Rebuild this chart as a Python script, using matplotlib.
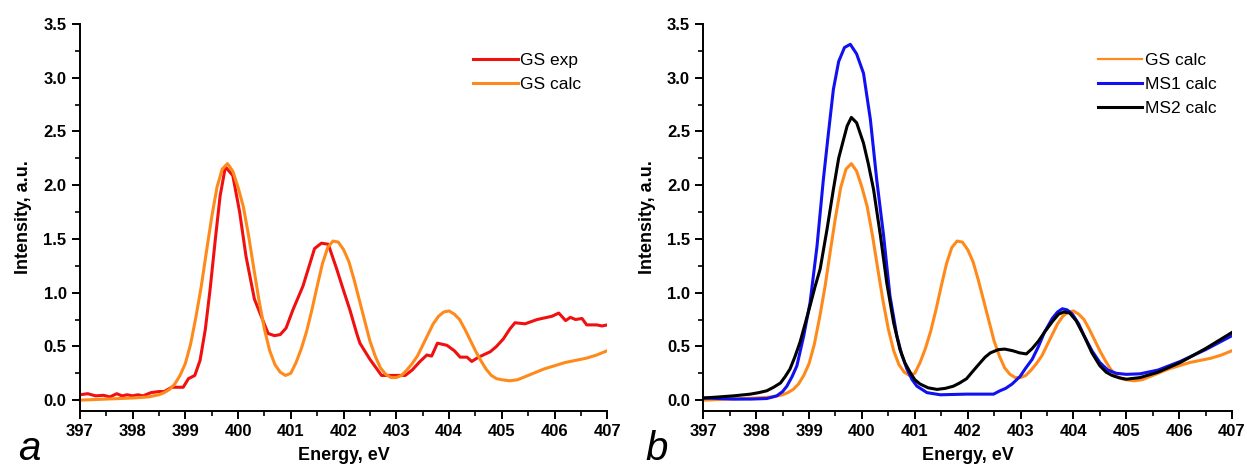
import matplotlib
matplotlib.use("Agg")
import matplotlib.pyplot as plt
from matplotlib.ticker import MultipleLocator, FormatStrFormatter

plt.rcParams['font.family'] = ['Liberation Sans', 'DejaVu Sans']

# GS experimental (panel a)
gs_exp_x = [397.0, 397.15, 397.3, 397.45, 397.57, 397.7, 397.8, 397.9, 398.0, 398.1, 398.2, 398.35,
            398.5, 398.6, 398.74, 398.96, 399.06, 399.18, 399.28, 399.38, 399.47, 399.57, 399.66,
            399.76, 399.9, 400.03, 400.15, 400.31, 400.44, 400.57, 400.69, 400.8, 400.91, 401.04,
            401.23, 401.45, 401.58, 401.71, 401.87, 402.0, 402.12, 402.25, 402.31, 402.5, 402.72,
            402.95, 403.17, 403.3, 403.45, 403.58, 403.67, 403.78, 403.96, 404.1, 404.21, 404.34,
            404.43, 404.56, 404.78, 404.9, 405.03, 405.15, 405.25, 405.44, 405.67, 405.95, 406.08,
            406.21, 406.3, 406.4, 406.52, 406.61, 406.8, 406.9, 407.0]
gs_exp_y = [0.05, 0.06, 0.04, 0.045, 0.03, 0.06, 0.04, 0.05, 0.04, 0.05, 0.04, 0.07,
            0.08, 0.08, 0.12, 0.12, 0.20, 0.23, 0.37, 0.66, 1.03, 1.50, 1.90,
            2.17, 2.09, 1.75, 1.34, 0.94, 0.78, 0.62, 0.60, 0.61, 0.67, 0.84,
            1.06, 1.41, 1.46, 1.45, 1.22, 1.02, 0.84, 0.62, 0.53, 0.38, 0.23,
            0.23, 0.23, 0.28, 0.36, 0.42, 0.41, 0.53, 0.51, 0.46, 0.40, 0.40,
            0.36, 0.40, 0.45, 0.50, 0.57, 0.66, 0.72, 0.71, 0.75, 0.78, 0.81,
            0.74, 0.77, 0.75, 0.76, 0.70, 0.70, 0.69, 0.70]

# GS calculated (both panels)
gs_calc_x = [397.0, 397.5, 398.0, 398.3, 398.5, 398.6, 398.7, 398.8, 398.9, 399.0, 399.1, 399.2,
             399.3, 399.4, 399.5, 399.6, 399.7, 399.8, 399.9, 400.0, 400.1, 400.2, 400.3, 400.4,
             400.5, 400.6, 400.7, 400.8, 400.9, 401.0, 401.1, 401.2, 401.3, 401.4, 401.5, 401.6,
             401.7, 401.8, 401.9, 402.0, 402.1, 402.2, 402.3, 402.4, 402.5, 402.6, 402.7, 402.8,
             402.9, 403.0, 403.1, 403.2, 403.3, 403.4, 403.5, 403.6, 403.7, 403.8, 403.9, 404.0,
             404.1, 404.2, 404.3, 404.4, 404.5, 404.6, 404.7, 404.8, 404.9, 405.0, 405.15, 405.3,
             405.45, 405.6, 405.8, 406.0, 406.2, 406.4, 406.6, 406.8, 407.0]
gs_calc_y = [0.00, 0.01, 0.02, 0.03, 0.05, 0.07, 0.10, 0.15, 0.23, 0.34, 0.52, 0.77,
             1.05, 1.38, 1.70, 1.98, 2.15, 2.20, 2.13, 1.98, 1.80, 1.53, 1.22, 0.92,
             0.66, 0.46, 0.33, 0.26, 0.23, 0.25, 0.35, 0.48, 0.64, 0.84, 1.06, 1.27,
             1.42, 1.48, 1.47, 1.40, 1.29, 1.12, 0.93, 0.74, 0.55, 0.41, 0.30, 0.24,
             0.21, 0.21, 0.23, 0.28, 0.34, 0.41, 0.51, 0.61, 0.71, 0.78, 0.82, 0.83,
             0.80, 0.75, 0.66, 0.56, 0.46, 0.37, 0.29, 0.23, 0.20, 0.19, 0.18, 0.19,
             0.22, 0.25, 0.29, 0.32, 0.35, 0.37, 0.39, 0.42, 0.46]

# MS1 calculated (panel b)
ms1_x = [397.0, 397.3, 397.57, 397.9, 398.2, 398.39, 398.5, 398.58, 398.68, 398.77, 398.9, 399.02,
         399.15, 399.27, 399.37, 399.46, 399.56, 399.67, 399.78, 399.9, 400.03, 400.16, 400.28,
         400.41, 400.53, 400.66, 400.75, 400.85, 400.95, 401.04, 401.23, 401.48, 401.98, 402.49,
         402.61, 402.72, 402.84, 402.99, 403.1, 403.22, 403.34, 403.45, 403.6, 403.7, 403.79,
         403.88, 403.98, 404.1, 404.2, 404.35, 404.5, 404.65, 404.81, 405.0, 405.26, 405.6,
         406.02, 406.5, 407.0]
ms1_y = [0.02, 0.015, 0.01, 0.01, 0.015, 0.04, 0.08, 0.13, 0.22, 0.32, 0.60, 0.91,
         1.43, 2.05, 2.50, 2.89, 3.15, 3.28, 3.31, 3.22, 3.04, 2.61, 2.05,
         1.53, 0.97, 0.60, 0.43, 0.29, 0.19, 0.13, 0.07, 0.05, 0.056, 0.056,
         0.087, 0.11, 0.15, 0.22, 0.30, 0.38, 0.50, 0.63, 0.76, 0.82, 0.85,
         0.84, 0.80, 0.71, 0.60, 0.46, 0.35, 0.28, 0.25, 0.24, 0.245, 0.28,
         0.36, 0.47, 0.60]

# MS2 calculated (panel b)
ms2_x = [397.0, 397.3, 397.57, 397.89, 398.05, 398.2, 398.33, 398.46, 398.55, 398.64, 398.73, 398.83,
         398.92, 399.02, 399.11, 399.21, 399.34, 399.46, 399.56, 399.65, 399.72, 399.8, 399.9,
         400.03, 400.12, 400.22, 400.35, 400.47, 400.6, 400.72, 400.81, 400.91, 401.0, 401.1,
         401.25, 401.42, 401.58, 401.73, 401.85, 401.98, 402.1, 402.24, 402.33, 402.43, 402.58,
         402.7, 402.85, 402.98, 403.11, 403.22, 403.34, 403.45, 403.6, 403.72, 403.82, 403.93,
         404.05, 404.2, 404.35, 404.5, 404.62, 404.73, 404.85, 405.0, 405.26, 405.6, 406.02,
         406.5, 407.0]
ms2_y = [0.02, 0.03, 0.04, 0.056, 0.07, 0.087, 0.12, 0.16, 0.22, 0.29, 0.40, 0.54,
         0.70, 0.88, 1.05, 1.22, 1.59, 1.96, 2.25, 2.42, 2.55, 2.63, 2.58,
         2.39, 2.20, 1.96, 1.53, 1.09, 0.72, 0.47, 0.35, 0.26, 0.19, 0.15,
         0.115, 0.10, 0.11, 0.13, 0.16, 0.20, 0.27, 0.35, 0.40, 0.44, 0.47,
         0.475, 0.46, 0.44, 0.43, 0.48, 0.55, 0.63, 0.73, 0.80, 0.82, 0.81,
         0.74, 0.60, 0.44, 0.32, 0.26, 0.23, 0.21, 0.195, 0.21, 0.26, 0.35,
         0.48, 0.63]

C_RED = '#f01010'
C_ORANGE = '#ff8a1c'
C_BLUE = '#1010f0'
C_BLACK = '#000000'

fig = plt.figure(figsize=(12.47, 4.68), dpi=100)
axL = fig.add_axes([0.064, 0.122, 0.423, 0.827])
axR = fig.add_axes([0.564, 0.122, 0.424, 0.827])

axL.plot(gs_exp_x, gs_exp_y, color=C_RED, lw=2.2, label='GS exp')
axL.plot(gs_calc_x, gs_calc_y, color=C_ORANGE, lw=2.2, label='GS calc')

axR.plot(gs_calc_x, gs_calc_y, color=C_ORANGE, lw=2.2, label='GS calc')
axR.plot(ms1_x, ms1_y, color=C_BLUE, lw=2.2, label='MS1 calc')
axR.plot(ms2_x, ms2_y, color=C_BLACK, lw=2.2, label='MS2 calc')

for ax in (axL, axR):
    ax.set_xlim(397, 407)
    ax.set_ylim(-0.1, 3.5)
    ax.spines['top'].set_visible(False)
    ax.spines['right'].set_visible(False)
    ax.spines['left'].set_linewidth(1.4)
    ax.spines['bottom'].set_linewidth(1.4)
    ax.xaxis.set_major_locator(MultipleLocator(1))
    ax.xaxis.set_minor_locator(MultipleLocator(0.5))
    ax.yaxis.set_major_locator(MultipleLocator(0.5))
    ax.yaxis.set_minor_locator(MultipleLocator(0.25))
    ax.yaxis.set_major_formatter(FormatStrFormatter('%.1f'))
    ax.tick_params(which='major', direction='out', length=6, width=1.4, labelsize=12)
    ax.tick_params(which='minor', direction='out', length=3.5, width=1.2)
    for lbl in ax.get_xticklabels() + ax.get_yticklabels():
        lbl.set_fontweight('bold')
    ax.set_xlabel('Energy, eV', fontsize=13, fontweight='bold', labelpad=6)
    ax.set_ylabel('Intensity, a.u.', fontsize=13, fontweight='bold', labelpad=8)
    leg = ax.legend(loc='upper left', frameon=False, fontsize=12.5, handlelength=2.55,
                    handletextpad=0.15, borderaxespad=0.0, borderpad=0.0,
                    labelspacing=0.5, bbox_to_anchor=(0.746, 0.925))

# thinner GS calc handle in the right legend
axR.get_legend().get_lines()[0].set_linewidth(1.6)

fig.text(18 / 1247, 8 / 468, 'a', fontsize=29, fontstyle='italic', ha='left', va='baseline')
fig.text(645 / 1247, 8 / 468, 'b', fontsize=29, fontstyle='italic', ha='left', va='baseline')

fig.savefig('out.png', dpi=100)
